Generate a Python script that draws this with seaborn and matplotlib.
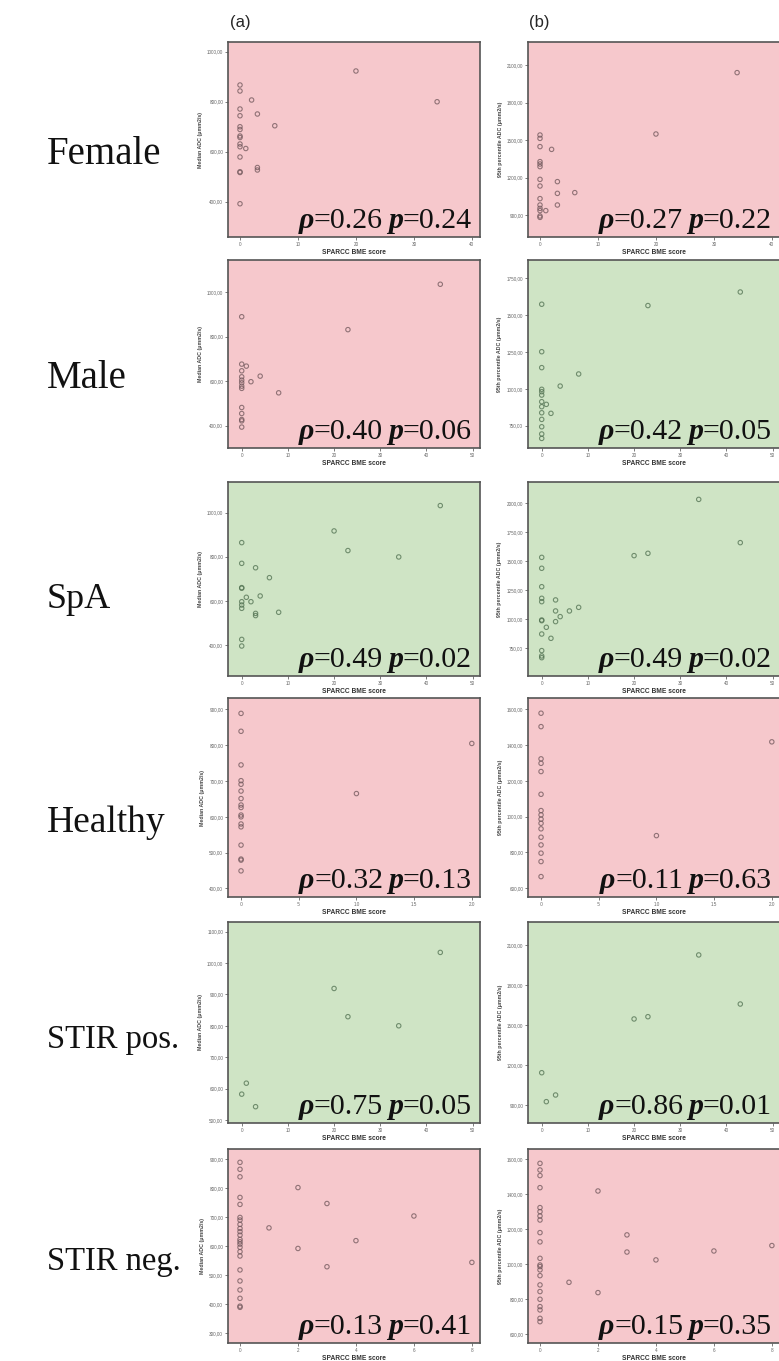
import numpy as np
import pandas as pd
import seaborn as sns
import matplotlib.pyplot as plt

sns.set_style('ticks')
plt.rcParams['font.family'] = ['Liberation Sans', 'DejaVu Sans']

# groups (rows) and the correlation values printed in each panel
groups = ['Female', 'Male', 'SpA', 'Healthy', 'STIR pos.', 'STIR neg.']
rho_median = ['0.26', '0.40', '0.49', '0.32', '0.75', '0.13']
p_median = ['0.24', '0.06', '0.02', '0.13', '0.05', '0.41']
rho_p95 = ['0.27', '0.42', '0.49', '0.11', '0.86', '0.15']
p_p95 = ['0.22', '0.05', '0.02', '0.63', '0.01', '0.35']
signif_median = [False, False, True, False, True, False]
signif_p95 = [False, True, True, False, True, False]

# SPARCC BME score (x) and ADC (y)
female_bme_a = [0, 0, 2, 0, 0, 3, 0, 0, 6, 0, 0, 0, 0, 1, 0, 0, 0, 3, 3, 0, 20, 34]
female_median = [867, 843, 807, 771, 744, 751, 700, 689, 704, 663, 657, 631, 620, 613, 579, 517, 520, 537, 527, 392, 923, 800]
female_bme_b = [0, 0, 0, 2, 0, 0, 0, 0, 3, 0, 3, 6, 0, 0, 3, 0, 0, 1, 0, 0, 20, 34]
female_p95 = [1540, 1513, 1447, 1425, 1327, 1308, 1287, 1185, 1167, 1132, 1073, 1079, 1031, 980, 980, 953, 935, 935, 881, 892, 1548, 2039]

male_bme_a = [0, 0, 1, 0, 0, 4, 0, 0, 2, 0, 0, 8, 0, 0, 0, 0, 0, 23, 43]
male_median = [890, 677, 668, 647, 620, 623, 605, 593, 598, 578, 568, 548, 482, 455, 428, 422, 394, 832, 1036]
male_bme_b = [0, 0, 0, 0, 0, 0, 0, 1, 0, 0, 2, 0, 0, 0, 0, 4, 8, 23, 43]
male_p95 = [1574, 1252, 1144, 997, 981, 958, 913, 895, 879, 838, 834, 793, 743, 694, 664, 1019, 1101, 1565, 1657]

spa_bme_a = [0, 0, 3, 6, 0, 0, 1, 0, 2, 4, 0, 0, 3, 3, 8, 0, 0, 20, 23, 34, 43]
spa_median = [864, 770, 750, 705, 660, 657, 616, 596, 596, 622, 581, 566, 543, 533, 548, 425, 395, 917, 828, 799, 1032]
spa_bme_b = [0, 0, 0, 0, 0, 3, 3, 6, 8, 4, 0, 0, 3, 1, 0, 2, 0, 0, 0, 20, 23, 34, 43]
spa_p95 = [1534, 1440, 1281, 1181, 1152, 1167, 1072, 1072, 1103, 1023, 994, 988, 980, 931, 873, 836, 730, 684, 669, 1549, 1569, 2034, 1661]

healthy_bme_a = [0, 0, 0, 0, 0, 0, 0, 0, 0, 0, 0, 0, 0, 0, 0, 0, 0, 1.0, 2.0]
healthy_median = [889, 839, 745, 701, 691, 672, 651, 633, 626, 605, 600, 580, 572, 521, 482, 479, 449, 665, 805]
healthy_bme_b = [0, 0, 0, 0, 0, 0, 0, 0, 0, 0, 0, 0, 0, 0, 0, 0, 1.0, 2.0]
healthy_p95 = [1578, 1503, 1323, 1298, 1252, 1125, 1034, 1010, 986, 963, 932, 885, 842, 796, 749, 665, 894, 1418]

stirpos_bme_a = [0, 1, 3, 20, 23, 34, 43]
stirpos_median = [582, 617, 542, 919, 829, 800, 1034]
stirpos_bme_b = [0, 1, 3, 20, 23, 34, 43]
stirpos_p95 = [1142, 925, 975, 1545, 1562, 2025, 1657]

stirneg_bme_a = [0, 0, 0, 0, 0, 0, 0, 0, 0, 0, 0, 0, 0, 0, 0, 0, 0, 0, 0, 0, 0, 0, 0,
                 1, 2, 2, 3, 3, 4, 6, 8]
stirneg_median = [890, 866, 840, 769, 745, 700, 691, 676, 662, 651, 639, 624, 616, 608, 597, 582, 567, 519, 481, 450, 421, 394, 390,
                  664, 803, 593, 748, 530, 620, 705, 545]
stirneg_bme_b = [0, 0, 0, 0, 0, 0, 0, 0, 0, 0, 0, 0, 0, 0, 0, 0, 0, 0, 0, 0, 0, 0,
                 1, 2, 2, 3, 3, 4, 6, 8]
stirneg_p95 = [1577, 1539, 1507, 1438, 1324, 1301, 1276, 1253, 1181, 1128, 1034, 996, 987, 968, 935, 882, 844, 800, 758, 739, 691, 672,
               897, 1419, 838, 1168, 1070, 1025, 1076, 1107]

# axis ticks
bme_ticks = [[0, 10, 20, 30, 40], [0, 10, 20, 30, 40, 50], [0, 10, 20, 30, 40, 50],
             [0, 0.5, 1.0, 1.5, 2.0], [0, 10, 20, 30, 40, 50], [0, 2, 4, 6, 8]]
bme_ticklabels = [['0', '10', '20', '30', '40'], ['0', '10', '20', '30', '40', '50'],
                  ['0', '10', '20', '30', '40', '50'], ['.0', '.5', '1.0', '1.5', '2.0'],
                  ['0', '10', '20', '30', '40', '50'], ['0', '2', '4', '6', '8']]
median_ticks = [[400, 600, 800, 1000], [400, 600, 800, 1000], [400, 600, 800, 1000],
                [400, 500, 600, 700, 800, 900], [500, 600, 700, 800, 900, 1000, 1100],
                [300, 400, 500, 600, 700, 800, 900]]
p95_ticks = [[900, 1200, 1500, 1800, 2100], [750, 1000, 1250, 1500, 1750],
             [750, 1000, 1250, 1500, 1750, 2000], [600, 800, 1000, 1200, 1400, 1600],
             [900, 1200, 1500, 1800, 2100], [600, 800, 1000, 1200, 1400, 1600]]

# view limits
bme_lim = [(-2.07, 41.4), (-2.97, 51.6), (-2.97, 51.6), (-0.113, 2.071), (-2.97, 51.6), (-0.414, 8.28)]
median_lim = [(259, 1039), (300, 1145), (259, 1139), (376, 932), (490, 1131), (267, 936)]
p95_lim = [(724, 2284), (599, 1874), (511, 2184), (551, 1663), (765, 2272), (550, 1659)]

panels_a = [(female_bme_a, female_median), (male_bme_a, male_median), (spa_bme_a, spa_median),
            (healthy_bme_a, healthy_median), (stirpos_bme_a, stirpos_median), (stirneg_bme_a, stirneg_median)]
panels_b = [(female_bme_b, female_p95), (male_bme_b, male_p95), (spa_bme_b, spa_p95),
            (healthy_bme_b, healthy_p95), (stirpos_bme_b, stirpos_p95), (stirneg_bme_b, stirneg_p95)]

PINK = '#f6c8cc'
GREEN = '#cfe4c5'
SERIF = ['Liberation Serif', 'DejaVu Serif']

W, H = 779, 1361
fig = plt.figure(figsize=(W / 100, H / 100), dpi=100)

col_left = [228, 528]
col_width = 252
row_top = [42, 260, 482, 698, 922, 1149]
row_bottom = [237, 448, 676, 897, 1123, 1343]
label_y = [155, 378, 600, 823, 1040, 1262]
label_size = [28, 28, 26, 27, 23.5, 23.5]


def stat_text(ax, rho, p):
    kw = dict(fontsize=21.5, family=SERIF, ha='right', va='bottom', color='#111111')
    bi = dict(fontweight='bold', fontstyle='italic')
    last = ax.annotate('=' + p, xy=(0.968, 0), xycoords='axes fraction',
                       xytext=(0, 2.5), textcoords='offset points', **kw)
    p_sym = ax.annotate('p', xy=(0, 0), xycoords=last, **kw, **bi)
    mid = ax.annotate('=' + rho, xy=(0, 0), xycoords=p_sym,
                      xytext=(-3.5, 0), textcoords='offset points', **kw)
    ax.annotate('ρ', xy=(0, 0), xycoords=mid, **kw, **bi)


def fmt(v):
    return f'{v:.2f}'.replace('.', ',')


for r in range(6):
    for c in range(2):
        left = col_left[c]
        ax = fig.add_axes([left / W, 1 - row_bottom[r] / H, col_width / W,
                           (row_bottom[r] - row_top[r]) / H])
        if c == 0:
            xs, ys = panels_a[r]
            sig, yticks, ylim = signif_median[r], median_ticks[r], median_lim[r]
            ylabel, rho, p = 'Median ADC (μmm2/s)', rho_median[r], p_median[r]
        else:
            xs, ys = panels_b[r]
            sig, yticks, ylim = signif_p95[r], p95_ticks[r], p95_lim[r]
            ylabel, rho, p = '95th percentile ADC (μmm2/s)', rho_p95[r], p_p95[r]

        df = pd.DataFrame({'bme': xs, 'adc': ys})
        ax.set_facecolor(GREEN if sig else PINK)
        edge = '#4f6f4f' if sig else '#6e5559'
        sns.scatterplot(data=df, x='bme', y='adc', ax=ax, marker='o', s=10,
                        facecolors='none', edgecolor=edge, linewidth=0.8, alpha=0.75)

        ax.set_xlim(bme_lim[r])
        ax.set_ylim(ylim)
        ax.set_xticks(bme_ticks[r])
        ax.set_xticklabels(bme_ticklabels[r])
        ax.set_yticks(yticks)
        ax.set_yticklabels([fmt(v) for v in yticks])
        ax.tick_params(labelsize=3.3, length=2, width=0.6, pad=1.5,
                       color='#666666', labelcolor='#666666')
        for sp in ax.spines.values():
            sp.set_color('#555555')
            sp.set_linewidth(1.2)
        ax.set_xlabel('SPARCC BME score', fontsize=4.8, fontweight='bold',
                      color='#333333', labelpad=1.5)
        ax.set_ylabel(ylabel, fontsize=3.8, fontweight='bold', color='#444444', labelpad=3)
        stat_text(ax, rho, p)

for r, g in enumerate(groups):
    fig.text(47 / W, 1 - label_y[r] / H, g, family=SERIF, fontsize=label_size[r],
             va='center', ha='left', color='#111111')

fig.text(230 / W, 1 - 22 / H, '(a)', fontsize=12, va='center', ha='left')
fig.text(529 / W, 1 - 22 / H, '(b)', fontsize=12, va='center', ha='left')

fig.savefig('out.png', dpi=100)
